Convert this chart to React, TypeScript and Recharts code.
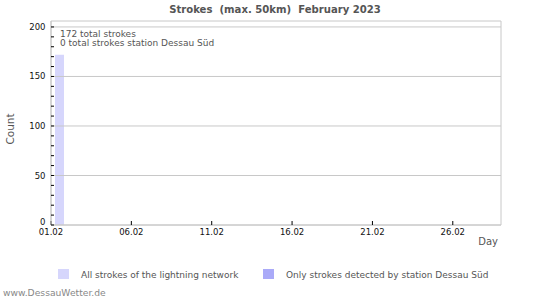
import React from "react";
import {Bar, BarChart, ReferenceLine, XAxis, YAxis} from "recharts";

// February 2023, one entry per day
const days = [
  "01.02", "02.02", "03.02", "04.02", "05.02", "06.02", "07.02",
  "08.02", "09.02", "10.02", "11.02", "12.02", "13.02", "14.02",
  "15.02", "16.02", "17.02", "18.02", "19.02", "20.02", "21.02",
  "22.02", "23.02", "24.02", "25.02", "26.02", "27.02", "28.02",
];
const allStrokes = [172, 0, 0, 0, 0, 0, 0, 0, 0, 0, 0, 0, 0, 0, 0, 0, 0, 0, 0, 0, 0, 0, 0, 0, 0, 0, 0, 0];
const stationStrokes = [0, 0, 0, 0, 0, 0, 0, 0, 0, 0, 0, 0, 0, 0, 0, 0, 0, 0, 0, 0, 0, 0, 0, 0, 0, 0, 0, 0];
const xTickIndexes = [0, 5, 10, 15, 20, 25];
const yTicks = [0, 10, 20, 30, 40, 50, 60, 70, 80, 90, 100, 110, 120, 130, 140, 150, 160, 170, 180, 190, 200];
const gridValues = [50, 100, 150, 200];

const ALL_COLOR = "#d6d6fc";
const STATION_COLOR = "#aaaaf8";
const GRID = "#c8c8c8";
const TEXT = "#555";

const data = days.map((day, i) => ({
  day,
  pos: i,
  all: allStrokes[i],
  station: stationStrokes[i],
}));

const totalAll = allStrokes.reduce((a, b) => a + b, 0);
const totalStation = stationStrokes.reduce((a, b) => a + b, 0);

// only every 50 gets a label; the 0 is lifted a little so it clears the date below
const YTick = (props: any) => {
  const {x, y, payload} = props;
  const v = payload.value;
  if (v % 50 !== 0) return null;
  return (
    <text x={x} y={v === 0 ? y - 3 : y} dy="0.355em" textAnchor="end" fontSize={8.5} fill="#111">
      {v}
    </text>
  );
};

export default function App() {
  return (
    <div style={{position: "absolute", left: 0, top: 0, width: 550, height: 300, fontFamily: "'DejaVu Sans', sans-serif", background: "#fff"}}>
      <BarChart width={550} height={300} data={data} margin={{top: 21, right: 49, bottom: 45, left: 0}}>
        <XAxis xAxisId="cat" dataKey="day" type="category" hide height={0}/>
        <XAxis
          xAxisId="num"
          dataKey="pos"
          type="number"
          domain={[0, 28]}
          allowDataOverflow
          ticks={xTickIndexes}
          tickFormatter={(v) => days[v]}
          height={30}
          interval={0}
          tickSize={-4}
          tickMargin={8}
          axisLine={{stroke: GRID}}
          tickLine={{stroke: "#000"}}
          tick={{fontSize: 8.5, fill: "#111"}}
        />
        <YAxis
          domain={[0, 206]}
          allowDataOverflow
          ticks={yTicks}
          interval={0}
          width={51}
          tickSize={-3}
          tickMargin={8.5}
          axisLine={{stroke: GRID}}
          tickLine={{stroke: "#000"}}
          tick={<YTick/>}
        />
        {gridValues.map((v) => (
          <ReferenceLine key={v} xAxisId="num" y={v} stroke={GRID}/>
        ))}
        <ReferenceLine xAxisId="num" y={206} stroke={GRID}/>
        <ReferenceLine xAxisId="num" y={0} stroke={GRID}/>
        <ReferenceLine xAxisId="num" x={0} stroke={GRID}/>
        <ReferenceLine xAxisId="num" x={28} stroke={GRID}/>
        <Bar xAxisId="cat" dataKey="all" stackId="a" fill={ALL_COLOR} barSize={9} isAnimationActive={false}/>
        <Bar xAxisId="cat" dataKey="station" stackId="a" fill={STATION_COLOR} barSize={9} isAnimationActive={false}/>
      </BarChart>
      <svg width={550} height={300} style={{position: "absolute", left: 0, top: 0, pointerEvents: "none"}}>
        <text x={275} y={12.5} textAnchor="middle" fontSize={10.1} fontWeight="bold" fill={TEXT} style={{whiteSpace: "pre"}}>
          {"Strokes  (max. 50km)  February 2023"}
        </text>
        <text x={60} y={37} fontSize={9} fill={TEXT}>{`${totalAll} total strokes`}</text>
        <text x={60} y={46} fontSize={9} fill={TEXT}>{`${totalStation} total strokes station Dessau Süd`}</text>
        <text transform="translate(13.5,129) rotate(-90)" textAnchor="middle" fontSize={10.5} fill={TEXT}>Count</text>
        <text x={498} y={245} textAnchor="end" fontSize={10} fill={TEXT}>Day</text>
        <rect x={58} y={269} width={11} height={10} fill={ALL_COLOR}/>
        <text x={81} y={278} fontSize={9} fill={TEXT}>All strokes of the lightning network</text>
        <rect x={263} y={269} width={11} height={10} fill={STATION_COLOR}/>
        <text x={286} y={278} fontSize={9} fill={TEXT}>Only strokes detected by station Dessau Süd</text>
        <text x={3} y={296} fontSize={9.2} fill="#888">www.DessauWetter.de</text>
      </svg>
    </div>
  );
}
